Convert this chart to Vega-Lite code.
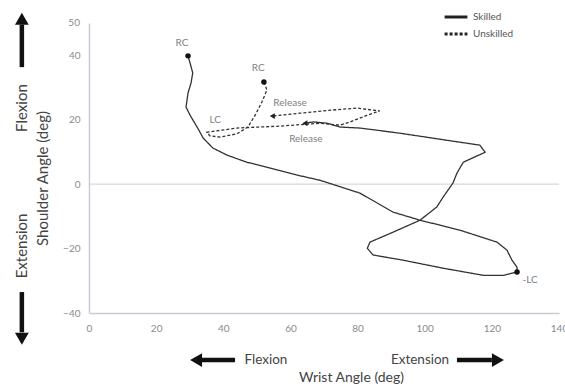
{
  "$schema": "https://vega.github.io/schema/vega-lite/v6.json",
  "width": 470,
  "height": 290,
  "autosize": {"type": "none"},
  "padding": {"left": 89, "top": 23, "right": 6, "bottom": 77},
  "background": "white",
  "config": {
    "view": {"stroke": null},
    "font": "Lato",
    "axis": {"grid": false, "ticks": false, "domainColor": "#c9ccd6", "domainWidth": 1.5, "labelColor": "#8a8a8a", "labelFontSize": 10, "labelFlush": false, "labelOverlap": false, "labelBound": false, "titleColor": "#444", "titleFontSize": 14, "titleFontWeight": "normal"}
  },
  "datasets": {
    "paths": [
      {"s": "Skilled", "i": 0, "x": 29.5, "y": 39.8},
      {"s": "Skilled", "i": 1, "x": 30.1, "y": 37.6},
      {"s": "Skilled", "i": 2, "x": 30.9, "y": 34.5},
      {"s": "Skilled", "i": 3, "x": 30.4, "y": 31.4},
      {"s": "Skilled", "i": 4, "x": 29.5, "y": 28.3},
      {"s": "Skilled", "i": 5, "x": 28.9, "y": 23.9},
      {"s": "Skilled", "i": 6, "x": 30.1, "y": 21.4},
      {"s": "Skilled", "i": 7, "x": 32.2, "y": 17.7},
      {"s": "Skilled", "i": 8, "x": 34.0, "y": 14.3},
      {"s": "Skilled", "i": 9, "x": 36.9, "y": 11.2},
      {"s": "Skilled", "i": 10, "x": 41.1, "y": 9.0},
      {"s": "Skilled", "i": 11, "x": 47.0, "y": 6.8},
      {"s": "Skilled", "i": 12, "x": 53.9, "y": 5.0},
      {"s": "Skilled", "i": 13, "x": 62.0, "y": 2.8},
      {"s": "Skilled", "i": 14, "x": 68.8, "y": 1.2},
      {"s": "Skilled", "i": 15, "x": 80.7, "y": -2.8},
      {"s": "Skilled", "i": 16, "x": 90.6, "y": -8.7},
      {"s": "Skilled", "i": 17, "x": 98.6, "y": -11.2},
      {"s": "Skilled", "i": 18, "x": 110.5, "y": -14.3},
      {"s": "Skilled", "i": 19, "x": 121.5, "y": -18.0},
      {"s": "Skilled", "i": 20, "x": 124.5, "y": -20.5},
      {"s": "Skilled", "i": 21, "x": 126.0, "y": -23.6},
      {"s": "Skilled", "i": 22, "x": 127.5, "y": -25.8},
      {"s": "Skilled", "i": 23, "x": 127.5, "y": -27.3},
      {"s": "Skilled", "i": 24, "x": 123.4, "y": -28.3},
      {"s": "Skilled", "i": 25, "x": 117.4, "y": -28.3},
      {"s": "Skilled", "i": 26, "x": 105.5, "y": -26.1},
      {"s": "Skilled", "i": 27, "x": 93.5, "y": -23.6},
      {"s": "Skilled", "i": 28, "x": 84.6, "y": -22.0},
      {"s": "Skilled", "i": 29, "x": 82.9, "y": -19.9},
      {"s": "Skilled", "i": 30, "x": 83.7, "y": -18.0},
      {"s": "Skilled", "i": 31, "x": 90.6, "y": -14.9},
      {"s": "Skilled", "i": 32, "x": 98.6, "y": -11.2},
      {"s": "Skilled", "i": 33, "x": 103.6, "y": -7.1},
      {"s": "Skilled", "i": 34, "x": 105.5, "y": -4.0},
      {"s": "Skilled", "i": 35, "x": 108.4, "y": 0.3},
      {"s": "Skilled", "i": 36, "x": 109.6, "y": 3.4},
      {"s": "Skilled", "i": 37, "x": 111.5, "y": 6.8},
      {"s": "Skilled", "i": 38, "x": 118.0, "y": 9.9},
      {"s": "Skilled", "i": 39, "x": 116.4, "y": 12.1},
      {"s": "Skilled", "i": 40, "x": 110.5, "y": 13.0},
      {"s": "Skilled", "i": 41, "x": 92.6, "y": 15.8},
      {"s": "Skilled", "i": 42, "x": 80.7, "y": 17.4},
      {"s": "Skilled", "i": 43, "x": 74.8, "y": 17.7},
      {"s": "Skilled", "i": 44, "x": 70.9, "y": 18.9},
      {"s": "Skilled", "i": 45, "x": 66.8, "y": 19.3},
      {"s": "Skilled", "i": 46, "x": 64.3, "y": 18.9},
      {"s": "Unskilled", "i": 0, "x": 52.1, "y": 31.7},
      {"s": "Unskilled", "i": 1, "x": 53.0, "y": 29.2},
      {"s": "Unskilled", "i": 2, "x": 51.5, "y": 25.5},
      {"s": "Unskilled", "i": 3, "x": 49.5, "y": 21.4},
      {"s": "Unskilled", "i": 4, "x": 47.3, "y": 17.7},
      {"s": "Unskilled", "i": 5, "x": 44.1, "y": 15.6},
      {"s": "Unskilled", "i": 6, "x": 39.0, "y": 14.6},
      {"s": "Unskilled", "i": 7, "x": 36.0, "y": 15.0},
      {"s": "Unskilled", "i": 8, "x": 35.1, "y": 16.1},
      {"s": "Unskilled", "i": 9, "x": 44.1, "y": 17.4},
      {"s": "Unskilled", "i": 10, "x": 56.9, "y": 18.0},
      {"s": "Unskilled", "i": 11, "x": 68.8, "y": 18.9},
      {"s": "Unskilled", "i": 12, "x": 74.8, "y": 18.3},
      {"s": "Unskilled", "i": 13, "x": 77.8, "y": 19.3},
      {"s": "Unskilled", "i": 14, "x": 82.9, "y": 21.4},
      {"s": "Unskilled", "i": 15, "x": 86.6, "y": 22.7},
      {"s": "Unskilled", "i": 16, "x": 79.8, "y": 23.6},
      {"s": "Unskilled", "i": 17, "x": 72.7, "y": 23.0},
      {"s": "Unskilled", "i": 18, "x": 62.8, "y": 22.0},
      {"s": "Unskilled", "i": 19, "x": 54.6, "y": 21.1}
    ],
    "dots": [
      {"x": 29.5, "y": 39.8},
      {"x": 52.1, "y": 31.7},
      {"x": 127.5, "y": -27.3}
    ],
    "heads": [
      {"x": 64.3, "y": 18.9},
      {"x": 54.6, "y": 21.1}
    ],
    "labels": [
      {"t": "RC", "x": 27.7, "y": 43.8},
      {"t": "RC", "x": 50.4, "y": 36.0},
      {"t": "LC", "x": 37.6, "y": 19.9},
      {"t": "Release", "x": 59.9, "y": 25.2},
      {"t": "Release", "x": 64.6, "y": 14.0},
      {"t": "-LC", "x": 131.4, "y": -29.8}
    ],
    "toplabel": [
      {"t": "50", "x": -2.7, "y": 50}
    ],
    "arrows": [
      {"x": -20.0, "y": 36.3, "x2": -20.0, "y2": 49.5},
      {"x": -20.0, "y": -33.5, "x2": -20.0, "y2": -46.0},
      {"x": 33.1, "y": -54.6, "x2": 43.5, "y2": -54.6},
      {"x": 109.6, "y": -54.6, "x2": 120.0, "y2": -54.6}
    ],
    "arrowheads": [
      {"d": "up", "x": -20.0, "y": 51.3},
      {"d": "down", "x": -20.0, "y": -48.0},
      {"d": "left", "x": 31.9, "y": -54.6},
      {"d": "right", "x": 121.8, "y": -54.6}
    ],
    "sidetext": [
      {"t": "Flexion", "x": -20.0, "y": 23.6},
      {"t": "Extension", "x": -20.0, "y": -19.2}
    ],
    "bottomtext": [
      {"t": "Flexion", "x": 52.7, "y": -54.6},
      {"t": "Extension", "x": 98.6, "y": -54.6}
    ]
  },
  "layer": [
    {
      "data": {"values": [{"y": 0}]},
      "mark": {"type": "rule", "color": "#cfcfcf", "strokeWidth": 1},
      "encoding": {
        "y": {"field": "y", "type": "quantitative", "scale": {"domain": [-40, 50], "nice": false, "zero": false}, "axis": {"values": [-40, -30, -20, -10, 0, 10, 20, 30, 40, 50], "labelPadding": 9, "title": "Shoulder Angle (deg)", "titleFontSize": 15, "titlePadding": 12, "titleY": 155}}
      }
    },
    {
      "data": {"name": "paths"},
      "mark": {"type": "line", "color": "#333", "strokeWidth": 1.3},
      "encoding": {
        "x": {"field": "x", "type": "quantitative", "scale": {"domain": [0, 140], "nice": false}, "axis": {"values": [0, 20, 40, 60, 80, 100, 120, 140], "labelPadding": 10, "title": "Wrist Angle (deg)", "titlePadding": 37, "titleX": 262}},
        "y": {"field": "y", "type": "quantitative"},
        "order": {"field": "i", "type": "quantitative"},
        "detail": {"field": "s"},
        "strokeDash": {"field": "s", "type": "nominal", "scale": {"domain": ["Skilled", "Unskilled"], "range": [[1, 0], [3, 2]]},
          "legend": {"title": null, "orient": "none", "legendX": 354, "legendY": -12, "symbolType": "stroke", "symbolSize": 520, "symbolStrokeWidth": 3, "symbolStrokeColor": "#222", "clipHeight": 12, "labelFontSize": 10, "labelColor": "#555", "rowPadding": 5}}
      }
    },
    {
      "data": {"name": "dots"},
      "mark": {"type": "point", "filled": true, "color": "#111", "size": 30, "opacity": 1},
      "encoding": {"x": {"field": "x", "type": "quantitative"}, "y": {"field": "y", "type": "quantitative"}}
    },
    {
      "data": {"name": "heads"},
      "mark": {"type": "point", "shape": "triangle-left", "filled": true, "color": "#222", "size": 35, "opacity": 1},
      "encoding": {"x": {"field": "x", "type": "quantitative"}, "y": {"field": "y", "type": "quantitative"}}
    },
    {
      "data": {"name": "labels"},
      "mark": {"type": "text", "color": "#808080", "fontSize": 10},
      "encoding": {"x": {"field": "x", "type": "quantitative"}, "y": {"field": "y", "type": "quantitative"}, "text": {"field": "t"}}
    },
    {
      "data": {"name": "toplabel"},
      "mark": {"type": "text", "color": "#8a8a8a", "fontSize": 10, "align": "right", "baseline": "middle"},
      "encoding": {"x": {"field": "x", "type": "quantitative"}, "y": {"field": "y", "type": "quantitative"}, "text": {"field": "t"}}
    },
    {
      "data": {"name": "arrows"},
      "mark": {"type": "rule", "color": "#111", "strokeWidth": 4.5},
      "encoding": {"x": {"field": "x", "type": "quantitative"}, "y": {"field": "y", "type": "quantitative"}, "x2": {"field": "x2"}, "y2": {"field": "y2"}}
    },
    {
      "data": {"name": "arrowheads"},
      "mark": {"type": "point", "filled": true, "color": "#111", "size": 190, "opacity": 1},
      "encoding": {
        "x": {"field": "x", "type": "quantitative"},
        "y": {"field": "y", "type": "quantitative"},
        "shape": {"field": "d", "type": "nominal", "scale": {"domain": ["up", "down", "left", "right"], "range": ["triangle-up", "triangle-down", "triangle-left", "triangle-right"]}, "legend": null}
      }
    },
    {
      "data": {"name": "sidetext"},
      "mark": {"type": "text", "color": "#444", "fontSize": 15, "angle": 270},
      "encoding": {"x": {"field": "x", "type": "quantitative"}, "y": {"field": "y", "type": "quantitative"}, "text": {"field": "t"}}
    },
    {
      "data": {"name": "bottomtext"},
      "mark": {"type": "text", "color": "#444", "fontSize": 13.5},
      "encoding": {"x": {"field": "x", "type": "quantitative"}, "y": {"field": "y", "type": "quantitative"}, "text": {"field": "t"}}
    }
  ]
}
